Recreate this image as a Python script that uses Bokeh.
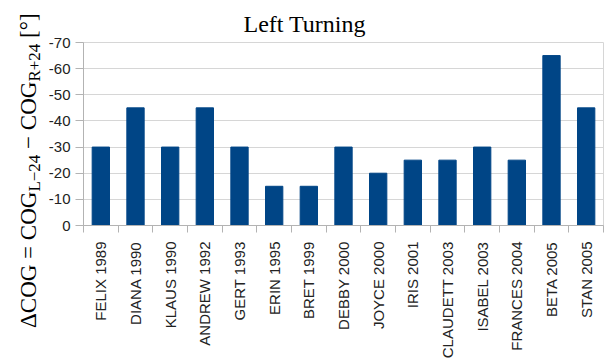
import math
from bokeh.plotting import figure
from bokeh.layouts import row
from bokeh.models import ColumnDataSource, FixedTicker, Range1d, Div
from bokeh.embed import file_html
from bokeh.resources import INLINE

# Hurricanes and their course change (left turning)
storms = ["FELIX 1989", "DIANA 1990", "KLAUS 1990", "ANDREW 1992", "GERT 1993",
          "ERIN 1995", "BRET 1999", "DEBBY 2000", "JOYCE 2000", "IRIS 2001",
          "CLAUDETT 2003", "ISABEL 2003", "FRANCES 2004", "BETA 2005", "STAN 2005"]
delta_cog = [-30, -45, -30, -45, -30, -15, -15, -30, -20, -25, -25, -30, -25, -65, -45]
y_ticks = [0, -10, -20, -30, -40, -50, -60, -70]
y_tick_labels = ["0", "-10", "-20", "-30", "-40", "-50", "-60", "-70"]

BAR = "#004586"
AXIS_GRAY = "#b3b3b3"
GRID_GRAY = "#d6d6d6"
SANS = "Liberation Sans"
SERIF = "Liberation Serif"

W, H = 606, 361
LABEL_W = 45

# ---- rotated y-axis title with real subscripts ----
sub = '<sub style="font-size:17px;vertical-align:-4px;">{}</sub>'
axis_title_html = (
    '<div style="white-space:nowrap;width:max-content;'
    "font-family:'Liberation Serif';font-size:23px;line-height:23px;color:#000;"
    'transform-origin:0 0;transform:translate(17px,328px) rotate(-90deg);">'
    "\u0394COG = COG" + sub.format("L\u221224") +
    " \u2212 COG" + sub.format("R+24") +
    " [\u00b0]</div>"
)
axis_title = Div(text=axis_title_html, width=LABEL_W, height=H, margin=0)

# ---- bar chart ----
positions = list(range(len(storms)))
source = ColumnDataSource(dict(x=positions, top=delta_cog, name=storms))

p = figure(width=W - LABEL_W, height=H, output_backend="svg", toolbar_location=None,
           title="Left Turning",
           x_range=Range1d(-0.5, len(storms) - 0.5),
           y_range=Range1d(0, y_ticks[-1]),
           min_border_left=81 - LABEL_W, min_border_right=3,
           min_border_top=42, min_border_bottom=136)
p.background_fill_color = "white"
p.border_fill_color = "white"
p.outline_line_color = GRID_GRAY

p.title.text_font = SERIF
p.title.text_font_size = "24px"
p.title.text_font_style = "normal"
p.title.text_color = "black"
p.title.align = "left"
p.title.offset = 160
p.title.standoff = 12

p.vbar(x="x", top="top", bottom=0, width=0.5, source=source,
       fill_color=BAR, line_color=BAR)

# category axis: names centred under bars, short ticks on the category boundaries
xax = p.xaxis[0]
xax.ticker = FixedTicker(ticks=positions,
                         minor_ticks=[i - 0.5 for i in range(len(storms) + 1)])
xax.major_label_overrides = {i: n for i, n in enumerate(storms)}
xax.major_tick_out = 0
xax.major_tick_in = 0
xax.major_tick_line_color = None
xax.minor_tick_out = 7
xax.minor_tick_in = 0
xax.minor_tick_line_color = AXIS_GRAY
xax.axis_line_color = AXIS_GRAY
xax.major_label_orientation = math.pi / 2
xax.major_label_standoff = 9
xax.major_label_text_font = SANS
xax.major_label_text_font_size = "15px"
xax.major_label_text_color = "#222222"

yax = p.yaxis[0]
yax.ticker = FixedTicker(ticks=y_ticks)
yax.major_label_overrides = dict(zip(y_ticks, y_tick_labels))
yax.major_tick_out = 8
yax.major_tick_in = 0
yax.minor_tick_line_color = None
yax.major_tick_line_color = AXIS_GRAY
yax.axis_line_color = AXIS_GRAY
yax.major_label_standoff = 5
yax.major_label_text_font = SANS
yax.major_label_text_font_size = "15px"
yax.major_label_text_color = "#222222"

p.xgrid.visible = False
p.ygrid.grid_line_color = GRID_GRAY

layout = row(axis_title, p)
open("out.html", "w").write(file_html(layout, INLINE))
